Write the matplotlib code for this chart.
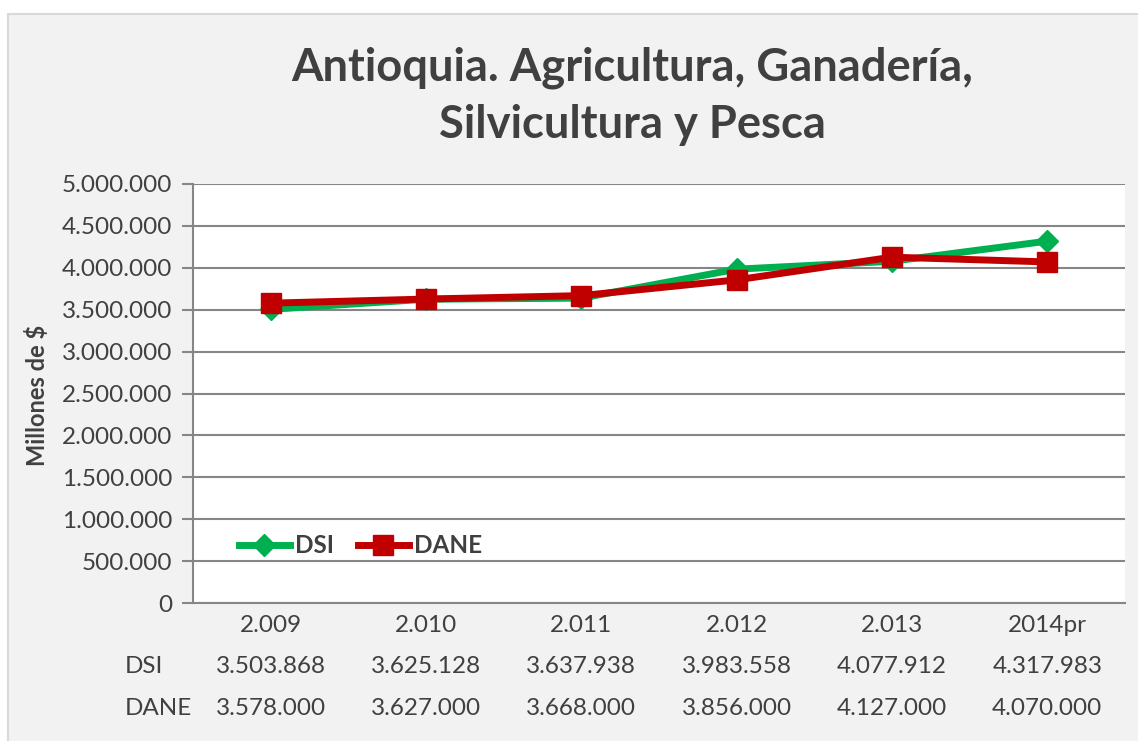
import matplotlib.pyplot as plt
from matplotlib.patches import Rectangle
from matplotlib.ticker import FuncFormatter, MultipleLocator

# Data
years = ["2.009", "2.010", "2.011", "2.012", "2.013", "2014pr"]
dsi = [3503868, 3625128, 3637938, 3983558, 4077912, 4317983]
dane = [3578000, 3627000, 3668000, 3856000, 4127000, 4070000]

plt.rcParams["font.family"] = ["Lato", "DejaVu Sans"]

def miles(v, pos=None):
    return f"{v:,.0f}".replace(",", ".")

fig = plt.figure(figsize=(11.38, 7.41), dpi=100)
fig.patch.set_facecolor("white")
# gray chart area with thin border
fig.patches.append(Rectangle((8 / 1138, -0.01), 1, 1 - 14 / 741 + 0.01,
                             transform=fig.transFigure, facecolor="#f2f2f2",
                             edgecolor="#d9d9d9", linewidth=1.5, zorder=-5))

ax = fig.add_axes([193 / 1138, 1 - 603 / 741, 932 / 1138, 419 / 741])
ax.set_facecolor("white")

x = list(range(len(years)))
ax.plot(x, dsi, color="#00b050", lw=5, marker="D", ms=11, label="DSI", zorder=3)
ax.plot(x, dane, color="#c00000", lw=5, marker="s", ms=15, label="DANE", zorder=4)

ax.set_xlim(-0.5, len(years) - 0.5)
ax.set_ylim(0, 5000000)
ax.yaxis.set_major_locator(MultipleLocator(500000))
ax.yaxis.set_major_formatter(FuncFormatter(miles))
ax.grid(axis="y", color="#868686", lw=1.5)
ax.set_axisbelow(True)

for s in ["top", "right"]:
    ax.spines[s].set_visible(False)
for s in ["left", "bottom"]:
    ax.spines[s].set_color("#868686")
    ax.spines[s].set_linewidth(1.5)

fs = 17.5
ax.set_xticks(x)
ax.set_xticklabels(years)
ax.tick_params(axis="x", length=0, pad=9, labelsize=fs, labelcolor="#404040")
ax.tick_params(axis="y", length=8, width=1.5, color="#868686", pad=7,
               labelsize=fs, labelcolor="#404040")

# y axis title
fig.text(37 / 1138, 1 - 395 / 741, "Millones de $", rotation=90,
         ha="center", va="center", fontsize=17, fontweight="bold",
         color="#404040")

# data table below the axis
tr = ax.get_xaxis_transform()
for name, vals, yy in [("DSI", dsi, -0.151), ("DANE", dane, -0.251)]:
    ax.text((125 - 193) / 932, yy, name, transform=ax.transAxes,
            ha="left", va="center", fontsize=fs, color="#404040")
    for xi, v in zip(x, vals):
        ax.text(xi, yy, miles(v), transform=tr, ha="center", va="center",
                fontsize=fs, color="#404040")

leg = ax.legend(loc="center left", bbox_to_anchor=(0.049, 0.137), ncol=2,
                frameon=False, fontsize=fs, handlelength=2.1, columnspacing=1.0,
                handletextpad=0.2, borderaxespad=0, borderpad=0)
for t in leg.get_texts():
    t.set_fontweight("bold")
    t.set_color("#404040")

fig.text(632 / 1138, 1 - 96 / 741,
         "Antioquia. Agricultura, Ganadería,\nSilvicultura y Pesca",
         ha="center", va="center", fontsize=32.7, fontweight="bold",
         color="#404040", linespacing=1.45)

fig.savefig("out.png", dpi=100)
